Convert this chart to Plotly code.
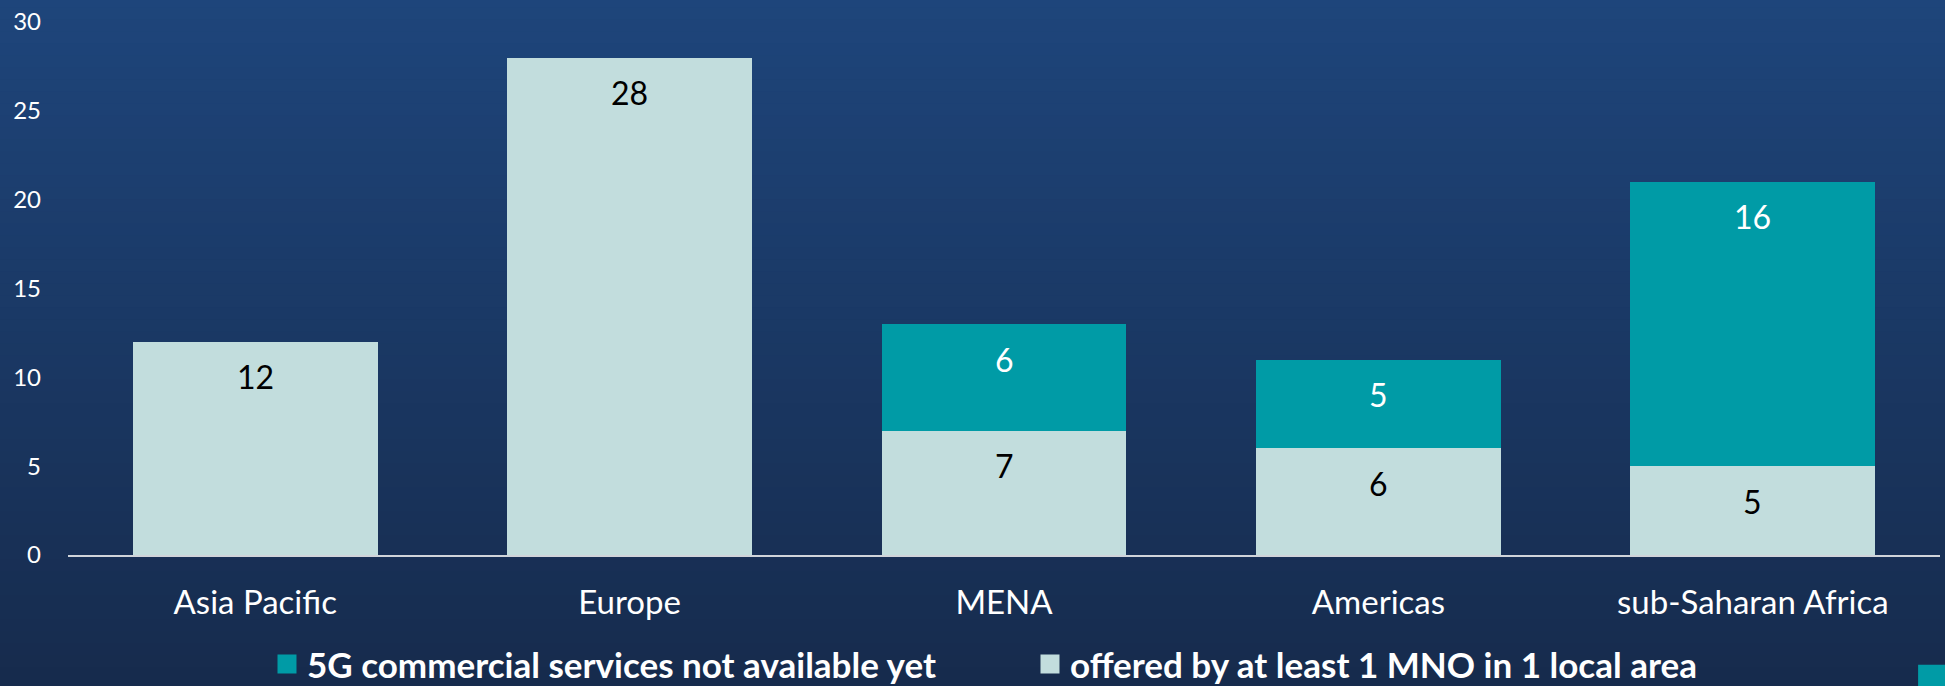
import plotly.graph_objects as go

categories = ["Asia Pacific", "Europe", "MENA", "Americas", "sub-Saharan Africa"]
offered = [12, 28, 7, 6, 5]
not_available = [0, 0, 6, 5, 16]
series_names = ["5G commercial services not available yet", "offered by at least 1 MNO in 1 local area"]
y_ticks = [0, 5, 10, 15, 20, 25, 30]

LIGHT = "#c2dddd"
TEAL = "#009ba6"
FONT = "Lato"

fig = go.Figure()

fig.add_trace(go.Bar(x=categories, y=offered, marker=dict(color=LIGHT, line=dict(width=0)),
                     showlegend=False, hoverinfo="skip"))
fig.add_trace(go.Bar(x=categories, y=[v if v else None for v in not_available],
                     marker=dict(color=TEAL, line=dict(width=0)),
                     showlegend=False, hoverinfo="skip"))

# legend entries
fig.add_trace(go.Scatter(x=[None], y=[None], mode="markers", name=series_names[0],
                         marker=dict(symbol="square", size=16, color=TEAL, line=dict(color=TEAL, width=3))))
fig.add_trace(go.Scatter(x=[None], y=[None], mode="markers", name=series_names[1],
                         marker=dict(symbol="square", size=16, color=LIGHT, line=dict(color=LIGHT, width=3))))

# data labels near top of each segment
annotations = []
for c, a, b in zip(categories, offered, not_available):
    if a:
        annotations.append(dict(x=c, y=a, xref="x", yref="y", text=str(a), showarrow=False,
                                yanchor="middle", yshift=-35,
                                font=dict(family=FONT, size=32, color="#000000")))
    if b:
        annotations.append(dict(x=c, y=a + b, xref="x", yref="y", text=str(b), showarrow=False,
                                yanchor="middle", yshift=-35,
                                font=dict(family=FONT, size=32, color="#ffffff")))

# background gradient
shapes = []
N = 60
top = (0x1e, 0x45, 0x7b)
bot = (0x16, 0x2a, 0x4b)
for i in range(N):
    t = i / (N - 1)
    col = tuple(round(top[k] + (bot[k] - top[k]) * t) for k in range(3))
    shapes.append(dict(type="rect", xref="paper", yref="paper",
                       x0=-0.1, x1=1.1,
                       y1=1.05 - i * (1.35 / N), y0=1.05 - (i + 1) * (1.35 / N) - 0.002,
                       fillcolor="rgb(%d,%d,%d)" % col, line=dict(width=0), layer="below"))
# corner accent
shapes.append(dict(type="rect", xref="paper", yref="paper", x0=0.9883, x1=1.01, y0=-0.206, y1=-0.3,
                   fillcolor=TEAL, line=dict(width=0), layer="above"))

fig.update_layout(
    width=1945, height=686,
    margin=dict(l=68, r=5, t=22, b=131, autoexpand=False),
    barmode="stack", bargap=0.346,
    paper_bgcolor="#1a355f", plot_bgcolor="rgba(0,0,0,0)",
    font=dict(family=FONT, color="#ffffff"),
    shapes=shapes, annotations=annotations,
    showlegend=True,
    legend=dict(orientation="h", x=0.1063, xanchor="left", y=-0.205, yanchor="middle",
                traceorder="normal", font=dict(family=FONT, size=35, color="#ffffff", weight="bold"),
                bgcolor="rgba(0,0,0,0)", itemsizing="trace", entrywidth=718, entrywidthmode="pixels"),
    xaxis=dict(showline=True, linecolor="#d0d4da", linewidth=1.5, ticks="", showgrid=False,
               tickfont=dict(family=FONT, size=33, color="#ffffff"), ticklabelstandoff=18,
               zeroline=False),
    yaxis=dict(range=[0, 30], tickvals=y_ticks, showgrid=False, zeroline=False, showline=False,
               ticks="", tickfont=dict(family=FONT, size=24, color="#ffffff"), ticklabelstandoff=26),
)

fig.write_html("out.html", config={"displayModeBar": False},
               post_script="document.body.style.margin='0';document.body.style.overflow='hidden';document.body.style.background='#172b4c';")
